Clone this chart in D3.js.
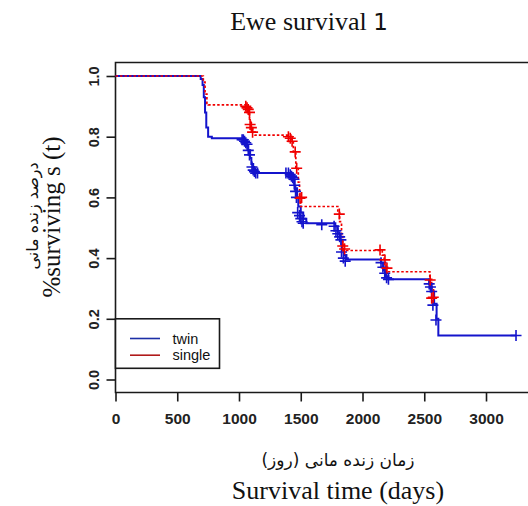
<!DOCTYPE html>
<html>
<head>
<meta charset="utf-8">
<script src="https://cdn.jsdelivr.net/npm/d3@7"></script>
<style>
  body { margin: 0; background: #fff; }
  svg { display: block; }
</style>
</head>
<body>
<div id="chart"></div>
<script>
// survival steps (time in days, survival)
const twinTime = [0, 690, 705, 715, 725, 735, 750, 780, 1040, 1060, 1075, 1090, 1100, 1115, 1140, 1400, 1430, 1450, 1470, 1480, 1500, 1520, 1545, 1780, 1800, 1820, 1835, 1850, 1870, 2150, 2170, 2190, 2210, 2540, 2560, 2580, 2600, 2614, 3243]
const twinSurv = [1.0, 0.99, 0.97, 0.93, 0.88, 0.83, 0.80, 0.795, 0.785, 0.77, 0.755, 0.73, 0.71, 0.69, 0.68, 0.675, 0.66, 0.63, 0.60, 0.57, 0.55, 0.53, 0.515, 0.505, 0.48, 0.46, 0.43, 0.41, 0.395, 0.385, 0.36, 0.34, 0.33, 0.315, 0.29, 0.25, 0.20, 0.145, 0.145]
const twinCensorTime = [1025, 1035, 1045, 1055, 1065, 1075, 1085, 1105, 1115, 1125, 1135, 1150, 1380, 1400, 1415, 1425, 1435, 1445, 1450, 1458, 1465, 1475, 1490, 1500, 1510, 1520, 1670, 1770, 1785, 1800, 1815, 1825, 1830, 1845, 1860, 2150, 2165, 2180, 2195, 2210, 2540, 2550, 2560, 2570, 2595, 3243]
const twinCensorSurv = [0.79, 0.79, 0.785, 0.78, 0.775, 0.755, 0.74, 0.70, 0.69, 0.685, 0.68, 0.68, 0.68, 0.68, 0.675, 0.67, 0.665, 0.66, 0.64, 0.62, 0.60, 0.55, 0.54, 0.53, 0.52, 0.515, 0.51, 0.505, 0.49, 0.48, 0.47, 0.46, 0.42, 0.40, 0.39, 0.385, 0.37, 0.35, 0.335, 0.33, 0.315, 0.305, 0.29, 0.245, 0.196, 0.145]

const singleTime = [0, 711, 725, 740, 751, 1070, 1085, 1095, 1110, 1130, 1420, 1440, 1460, 1480, 1490, 1500, 1800, 1815, 1830, 1840, 1850, 2160, 2175, 2190, 2545, 2560, 2575, 2580]
const singleSurv = [1.0, 0.98, 0.94, 0.91, 0.905, 0.88, 0.85, 0.83, 0.815, 0.805, 0.79, 0.75, 0.70, 0.65, 0.60, 0.57, 0.55, 0.52, 0.48, 0.45, 0.425, 0.41, 0.38, 0.355, 0.33, 0.30, 0.27, 0.27]
const singleCensorTime = [1055, 1065, 1075, 1085, 1090, 1100, 1110, 1400, 1415, 1430, 1455, 1467, 1494, 1507, 1812, 1840, 1855, 2142, 2182, 2198, 2548, 2560, 2573]
const singleCensorSurv = [0.90, 0.895, 0.89, 0.88, 0.84, 0.83, 0.815, 0.80, 0.795, 0.785, 0.75, 0.696, 0.597, 0.60, 0.545, 0.44, 0.43, 0.427, 0.394, 0.367, 0.328, 0.268, 0.271]

const xTicks = [0, 500, 1000, 1500, 2000, 2500, 3000]
const yTicks = [0.0, 0.2, 0.4, 0.6, 0.8, 1.0]
const legendLabels = ["twin", "single"]

const W = 528, H = 506
const svg = d3.select("#chart").append("svg").attr("width", W).attr("height", H)

const x = d3.scaleLinear().domain([0, 3340]).range([115.5, 528])
const y = d3.scaleLinear().domain([0, 1]).range([379.5, 76])
const frameTop = 62.5, frameBottom = 392.5, frameLeft = 115.5

// frame (right side runs off the picture)
svg.append("path")
  .attr("d", `M${W + 5},${frameTop}H${frameLeft}V${frameBottom}H${W + 5}`)
  .attr("fill", "none").attr("stroke", "#1a1a1a").attr("stroke-width", 1.6)

// x axis
const xAxis = svg.append("g").attr("transform", `translate(0,${frameBottom})`)
  .call(d3.axisBottom(x).tickValues(xTicks).tickSize(9).tickPadding(11).tickFormat(d3.format("d")))
xAxis.select(".domain").remove()
xAxis.selectAll("line").attr("stroke", "#1a1a1a").attr("stroke-width", 1.6)
xAxis.selectAll("text").attr("font-family", "Liberation Sans, Arial, sans-serif")
  .attr("font-size", 15.5).attr("font-weight", "bold").attr("fill", "#222").attr("dy", "0.71em")

// y axis
const yAxis = svg.append("g").attr("transform", `translate(${frameLeft},0)`)
  .call(d3.axisLeft(y).tickValues(yTicks).tickSize(9).tickFormat(d3.format(".1f")))
yAxis.select(".domain").remove()
yAxis.selectAll("line").attr("stroke", "#1a1a1a").attr("stroke-width", 1.6)
yAxis.selectAll("text").remove()
yAxis.selectAll(".tick").append("text")
  .attr("transform", "translate(-22,0) rotate(-90)")
  .attr("text-anchor", "middle").attr("dy", "0.36em")
  .attr("font-family", "Liberation Sans, Arial, sans-serif").attr("font-size", 14.5)
  .attr("font-weight", "bold").attr("fill", "#222")
  .text(d => d3.format(".1f")(d))

// curves
const line = d3.line().curve(d3.curveStepAfter).x(d => x(d[0])).y(d => y(d[1]))
const twinPts = twinTime.map((t, i) => [t, twinSurv[i]])
const singlePts = singleTime.map((t, i) => [t, singleSurv[i]])

svg.append("path").attr("d", line(twinPts))
  .attr("fill", "none").attr("stroke", "#1414cc").attr("stroke-width", 2)

svg.append("path").attr("d", line(singlePts))
  .attr("fill", "none").attr("stroke", "#f00000").attr("stroke-width", 1.7)
  .attr("stroke-dasharray", "2.5,2")

var drawCensor = (times, survs, colour) => {
  const g = svg.append("g").attr("stroke", colour).attr("stroke-width", 1.6)
  times.forEach((t, i) => {
    const cx = x(t), cy = y(survs[i])
    g.append("path").attr("d", `M${cx - 5.5},${cy}H${cx + 5.5}M${cx},${cy - 5.5}V${cy + 5.5}`)
  })
}
drawCensor(twinCensorTime, twinCensorSurv, "#1414cc")
drawCensor(singleCensorTime, singleCensorSurv, "#f00000")

// legend
const legend = svg.append("g")
legend.append("rect").attr("x", 115.5).attr("y", y(0.2)).attr("width", 104).attr("height", 49.5)
  .attr("fill", "#fff").attr("stroke", "#1a1a1a").attr("stroke-width", 1.6)
const legendColours = ["#1c2ea6", "#b01a1a"]
legendLabels.forEach((lab, i) => {
  const ly = 338.5 + i * 16.7
  legend.append("line").attr("x1", 130).attr("x2", 160).attr("y1", ly).attr("y2", ly)
    .attr("stroke", legendColours[i]).attr("stroke-width", 1.6)
  legend.append("text").attr("x", 172.5).attr("y", ly).attr("dy", "0.35em")
    .attr("font-family", "Liberation Sans, Arial, sans-serif").attr("font-size", 14.5)
    .attr("fill", "#111").text(lab)
})

// titles
const title = svg.append("text").attr("x", 309).attr("y", 30).attr("text-anchor", "middle")
  .attr("font-size", 26).attr("fill", "#111")
title.append("tspan").attr("font-family", "Liberation Serif, Times New Roman, serif").text("Ewe survival ")
title.append("tspan").attr("font-family", "DejaVu Sans, sans-serif").attr("font-size", 23).text("1")

svg.append("text").attr("x", 338).attr("y", 466).attr("text-anchor", "middle")
  .attr("direction", "rtl").attr("font-family", "DejaVu Sans, sans-serif")
  .attr("font-size", 17).attr("fill", "#111").text("زمان زنده مانی (روز)")

svg.append("text").attr("x", 338).attr("y", 499).attr("text-anchor", "middle")
  .attr("font-family", "Liberation Serif, Times New Roman, serif")
  .attr("font-size", 26).attr("fill", "#111").text("Survival time (days)")

svg.append("text").attr("transform", "translate(38,216) rotate(-90)").attr("text-anchor", "middle")
  .attr("direction", "rtl").attr("font-family", "DejaVu Sans, sans-serif")
  .attr("font-size", 16).attr("fill", "#111").text("درصد زنده مانی")

svg.append("text").attr("transform", "translate(59.5,217) rotate(-90)").attr("text-anchor", "middle")
  .attr("font-family", "Liberation Serif, Times New Roman, serif")
  .attr("font-size", 25).attr("fill", "#111").text("%surviving s (t)")
</script>
</body>
</html>
